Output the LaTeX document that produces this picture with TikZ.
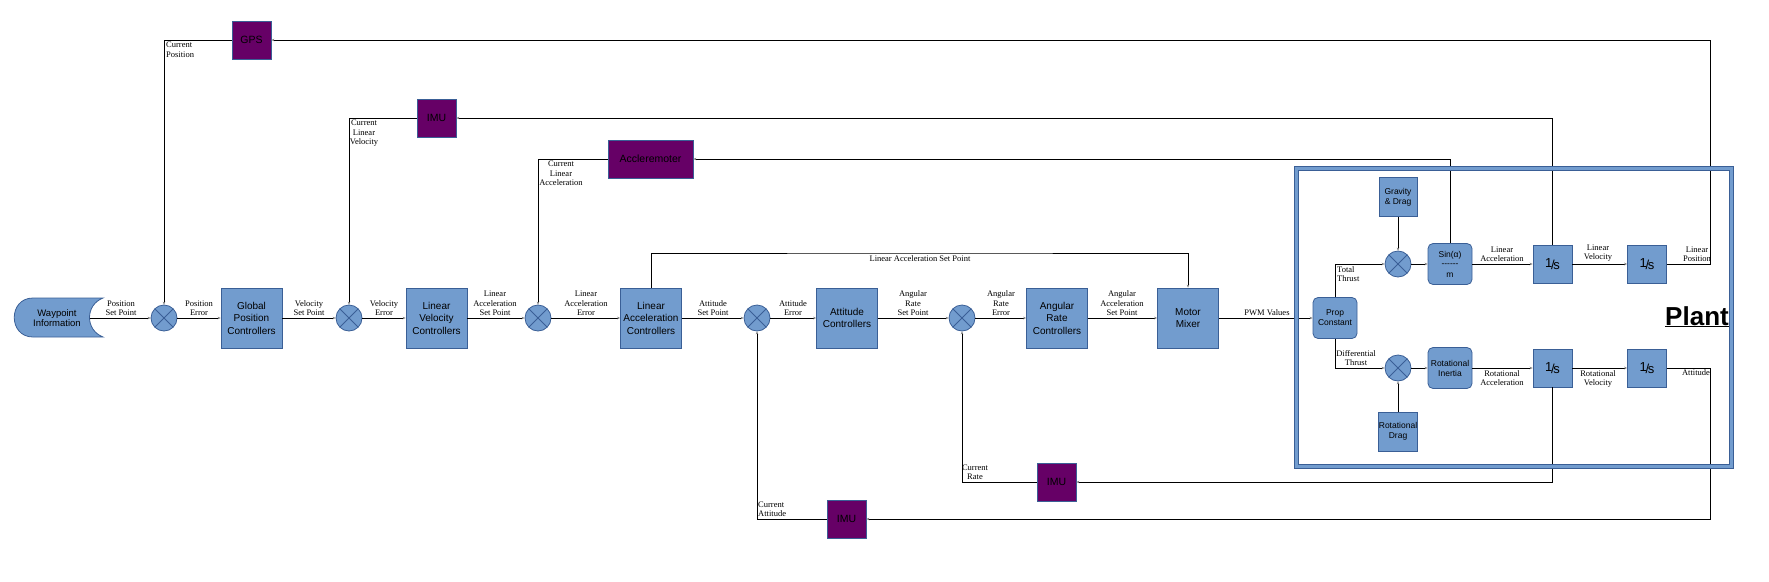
\documentclass[tikz,border=0pt]{standalone}
\usepackage{fontspec}
\setmainfont{Liberation Serif}
\setsansfont{Liberation Sans}
\usetikzlibrary{arrows.meta}

\definecolor{bluefill}{RGB}{114,156,206}
\definecolor{blueedge}{RGB}{58,95,150}
\definecolor{sensorfill}{RGB}{102,0,102}

\newcommand{\invs}{\raisebox{2pt}{1}\kern-1.2pt/\kern-1.5pt s}

\tikzset{
	blockbox/.style={draw=blueedge, fill=bluefill, line width=0.8pt, minimum width=61pt, minimum height=60pt, inner sep=1pt, align=center, font=\sffamily\fontsize{10}{12.5}\selectfont},
	sensorbox/.style={draw=blueedge, fill=sensorfill, line width=0.8pt, minimum width=39pt, minimum height=38pt, inner sep=1pt, align=center, font=\sffamily\fontsize{10.5}{12}\selectfont},
	plantbox/.style={draw=blueedge, fill=bluefill, line width=0.8pt, minimum width=38pt, minimum height=39pt, inner sep=0pt, align=center, font=\sffamily\fontsize{8.5}{10}\selectfont},
	roundbox/.style={plantbox, rounded corners=5pt, minimum width=44pt, minimum height=41pt},
	intbox/.style={plantbox, minimum width=39pt, minimum height=38pt, font=\sffamily\fontsize{13}{13}\selectfont},
	sumnode/.style={circle, draw=blueedge, fill=bluefill, line width=0.8pt, minimum size=26pt, inner sep=0pt,
		path picture={\draw[blueedge, line width=0.8pt] (path picture bounding box.north west) -- (path picture bounding box.south east)
			(path picture bounding box.north east) -- (path picture bounding box.south west);}},
	lbl/.style={inner sep=0pt, align=center, font=\fontsize{8.5}{9.5}\selectfont},
	wire/.style={draw=black, line width=0.8pt, -{Stealth[length=3pt,width=2.6pt,color=gray]}}
}

\begin{document}
\begin{tikzpicture}[x=1pt,y=-1pt]
	\useasboundingbox (0,0) rectangle (1769,581);

	% waypoint source
	\draw[draw=blueedge, fill=bluefill, line width=0.8pt] (103,298) -- (33,298) .. controls (8,298) and (8,337) .. (33,337)
		-- (103,337) .. controls (85,330) and (85,305) .. (103,298) -- cycle;
	\node[font=\sffamily\fontsize{9.5}{10.5}\selectfont, align=center] (wp) at (57,318) {Waypoint\\Information};
	\coordinate (wpout) at (89.5,318);

	% forward path
	\node[sumnode] (sum1) at (164,318) {};
	\node[blockbox] (gpc) at (251.5,318) {Global\\Position\\Controllers};
	\node[sumnode] (sum2) at (349,318) {};
	\node[blockbox] (lvc) at (436.5,318) {Linear\\Velocity\\Controllers};
	\node[sumnode] (sum3) at (538,318) {};
	\node[blockbox] (lac) at (651,318) {Linear\\Acceleration\\Controllers};
	\node[sumnode] (sum4) at (757,318) {};
	\node[blockbox] (ac) at (847,318) {Attitude\\Controllers};
	\node[sumnode] (sum5) at (962,318) {};
	\node[blockbox] (arc) at (1057,318) {Angular\\Rate\\Controllers};
	\node[blockbox] (mm) at (1188,318) {Motor\\Mixer};

	% sensors
	\node[sensorbox] (gps) at (251.5,40) {GPS};
	\node[sensorbox] (imua) at (436.5,118) {IMU};
	\node[sensorbox, minimum width=85pt] (accel) at (650.5,159) {Accleremoter};
	\node[sensorbox] (imub) at (1056.5,482) {IMU};
	\node[sensorbox] (imuc) at (846.5,519) {IMU};

	% plant
	\node[roundbox] (prop) at (1335,318) {Prop\\Constant};
	\node[plantbox] (grav) at (1398,197) {Gravity\\\& Drag};
	\node[sumnode] (sum6) at (1398,264) {};
	\node[roundbox] (sinm) at (1450,264) {Sin(α)\\[-1pt]-{}-{}-{}-{}-{}-\\[1pt]m};
	\node[intbox] (int1) at (1552.5,264) {\invs};
	\node[intbox] (int2) at (1647,264) {\invs};
	\node[plantbox] (rdrag) at (1398,431.5) {Rotational\\Drag};
	\node[sumnode] (sum7) at (1398,368) {};
	\node[roundbox] (rinert) at (1450,368) {Rotational\\Inertia};
	\node[intbox] (int3) at (1552.5,368) {\invs};
	\node[intbox] (int4) at (1647,368) {\invs};
	\node[font=\sffamily\bfseries\fontsize{26}{26}\selectfont, inner sep=0pt, anchor=base] (plant) at (1697,325) {\underline{Plant}};

	\coordinate (posr) at (1710,40);
	\coordinate (attr) at (1710,519);
	\coordinate (lasp) at (920,253);

	% connectors
	\draw[wire] (wpout) -- (sum1);
	\draw[wire] (sum1) -- (gpc);
	\draw[wire] (gpc) -- (sum2);
	\draw[wire] (sum2) -- (lvc);
	\draw[wire] (lvc) -- (sum3);
	\draw[wire] (sum3) -- (lac);
	\draw[wire] (lac) -- (sum4);
	\draw[wire] (sum4) -- (ac);
	\draw[wire] (ac) -- (sum5);
	\draw[wire] (sum5) -- (arc);
	\draw[wire] (arc) -- (mm);
	\draw[wire] (mm) -- (prop);
	\draw[wire] (lac.north) |- (lasp) -| (mm.north);
	\draw[wire] (prop.north) |- (sum6.west);
	\draw[wire] (prop.south) |- (sum7.west);
	\draw[wire] (grav) -- (sum6);
	\draw[wire] (rdrag) -- (sum7);
	\draw[wire] (sum6) -- (sinm);
	\draw[wire] (sinm) -- (int1);
	\draw[wire] (int1) -- (int2);
	\draw[wire] (sum7) -- (rinert);
	\draw[wire] (rinert) -- (int3);
	\draw[wire] (int3) -- (int4);
	\draw[wire] (int2.east) -| (posr) -- (gps.east);
	\draw[wire] (gps.west) -| (sum1.north);
	\draw[wire] (int1.north) |- (imua.east);
	\draw[wire] (imua.west) -| (sum2.north);
	\draw[wire] (sinm.north) |- (accel.east);
	\draw[wire] (accel.west) -| (sum3.north);
	\draw[wire] (int4.east) -| (attr) -- (imuc.east);
	\draw[wire] (imuc.west) -| (sum4.south);
	\draw[wire] (int3.south) |- (imub.east);
	\draw[wire] (imub.west) -| (sum5.south);

	% plant frame
	\draw[draw=blueedge, double=bluefill, double distance=3pt, line width=1pt] (1296.5,168.5) rectangle (1731,466);

	% signal labels
	\node[lbl, anchor=south] (l1) at (121,316) {Position\\Set Point};
	\node[lbl, anchor=south] (l2) at (199,316) {Position\\Error};
	\node[lbl, anchor=south] (l3) at (309,316) {Velocity\\Set Point};
	\node[lbl, anchor=south] (l4) at (384,316) {Velocity\\Error};
	\node[lbl, anchor=south] (l5) at (495,316) {Linear\\Acceleration\\Set Point};
	\node[lbl, anchor=south] (l6) at (586,316) {Linear\\Acceleration\\Error};
	\node[lbl, anchor=south] (l7) at (713,316) {Attitude\\Set Point};
	\node[lbl, anchor=south] (l8) at (793,316) {Attitude\\Error};
	\node[lbl, anchor=south] (l9) at (913,316) {Angular\\Rate\\Set Point};
	\node[lbl, anchor=south] (l10) at (1001,316) {Angular\\Rate\\Error};
	\node[lbl, anchor=south] (l11) at (1122,316) {Angular\\Acceleration\\Set Point};
	\node[lbl, anchor=south] (l12) at (1267,316) {PWM Values};
	\node[lbl, anchor=north] (l13) at (920,255) {Linear Acceleration Set Point};
	\node[lbl, anchor=north west, align=left] (l14) at (166,42) {Current\\Position};
	\node[lbl, anchor=north] (l15) at (364,120) {Current\\Linear\\Velocity};
	\node[lbl, anchor=north] (l16) at (561,161) {Current\\Linear\\Acceleration};
	\node[lbl, anchor=south] (l17) at (975,480) {Current\\Rate};
	\node[lbl, anchor=south west, align=left] (l18) at (758,517) {Current\\Attitude};
	\node[lbl, anchor=south] (l19) at (1502,262) {Linear\\Acceleration};
	\node[lbl, anchor=south] (l20) at (1598,262) {Linear\\Velocity};
	\node[lbl, anchor=south] (l21) at (1697,262) {Linear\\Position};
	\node[lbl, anchor=north west, align=left] (l22) at (1337,266) {Total\\Thrust};
	\node[lbl, anchor=south] (l23) at (1356,366) {Differential\\Thrust};
	\node[lbl, anchor=north] (l24) at (1502,370) {Rotational\\Acceleration};
	\node[lbl, anchor=north] (l25) at (1598,370) {Rotational\\Velocity};
	\node[lbl, anchor=north] (l26) at (1696,369) {Attitude};
\end{tikzpicture}
\end{document}
